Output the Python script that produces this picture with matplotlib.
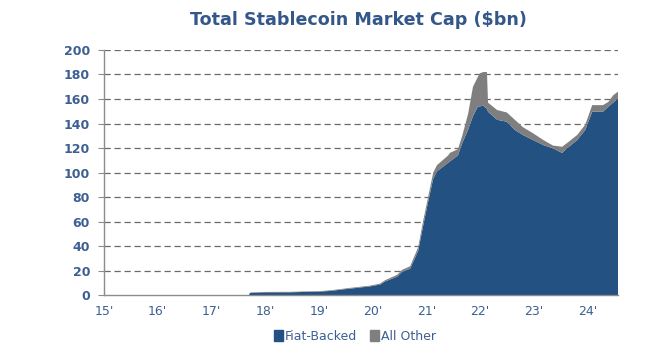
import matplotlib
matplotlib.use("Agg")
import matplotlib.pyplot as plt
import numpy as np
from matplotlib.patches import Patch

# Fractional year, total and fiat-backed market cap ($bn)
years = [2015.0, 2017.70, 2017.72, 2018.00, 2018.46, 2019.02, 2019.21, 2019.58, 2019.95,
         2020.14, 2020.23, 2020.46, 2020.55, 2020.70, 2020.85, 2020.94, 2021.03, 2021.13,
         2021.20, 2021.41, 2021.44, 2021.59, 2021.67, 2021.78, 2021.87, 2021.96, 2022.00,
         2022.06, 2022.13, 2022.15, 2022.32, 2022.50, 2022.65, 2022.80, 2022.99, 2023.18,
         2023.36, 2023.53, 2023.62, 2023.81, 2023.96, 2024.09, 2024.29, 2024.39, 2024.48,
         2024.57]
fiat = [0, 0, 1.8, 2.2, 2.2, 2.8, 3.3, 5.2, 7.0,
        8.5, 11, 15, 19, 21.5, 36, 56, 75, 95,
        101, 108, 109, 114, 124, 135, 146, 153.7, 154,
        154.5, 152, 149.6, 143, 141.5, 134.7, 130.6, 126.5, 122.4,
        119.7, 116, 119.7, 126.5, 134.7, 149.6, 149.6, 153.7, 157,
        160.6]
total = [0, 0, 2.0, 2.5, 2.6, 3.2, 3.8, 5.8, 7.6,
         9.3, 12, 16.5, 20.5, 23.5, 39, 60, 79, 100,
         106, 114, 116, 119, 130, 148, 170, 178, 181,
         182, 182, 157, 151, 149, 143, 137, 132, 126.5,
         122, 121, 124, 130.6, 139, 155, 155, 157.6, 163,
         166]
other = [t - f for t, f in zip(total, fiat)]

x_ticks = [2015, 2016, 2017, 2018, 2019, 2020, 2021, 2022, 2023, 2024]
x_labels = ["15'", "16'", "17'", "18'", "19'", "20'", "21'", "22'", "23'", "24'"]
y_ticks = [0, 20, 40, 60, 80, 100, 120, 140, 160, 180, 200]

BLUE = "#235182"
GRAY = "#7f7f7f"
TXT = "#3d5f93"

fig = plt.figure(figsize=(6.48, 3.61), dpi=100)
ax = fig.add_axes([0.1605, 0.1828, 0.7932, 0.6787])

ax.stackplot(years, fiat, other, colors=[BLUE, GRAY], linewidth=0)

ax.set_xlim(2015, 2024.57)
ax.set_ylim(0, 200)
ax.set_yticks(y_ticks)
ax.set_xticks(x_ticks)
ax.set_xticklabels(x_labels)
for y in y_ticks[1:]:
    ax.axhline(y, color="#6a6a6a", lw=0.9, ls=(0, (5, 3)), zorder=0)

for s in ["top", "right"]:
    ax.spines[s].set_visible(False)
for s in ["left", "bottom"]:
    ax.spines[s].set_color("#8c8c8c")
    ax.spines[s].set_linewidth(1.0)

ax.tick_params(axis="y", length=4, color="#8c8c8c", labelsize=9, labelcolor=TXT, pad=6)
ax.tick_params(axis="x", length=0, labelsize=9, labelcolor=TXT, pad=7)
for lab in ax.get_yticklabels():
    lab.set_fontweight("bold")

fig.text(0.553, 0.945, "Total Stablecoin Market Cap ($bn)", ha="center", va="center",
         fontsize=12.6, fontweight="bold", color="#34578a")

handles = [Patch(color=BLUE, label="Fiat-Backed"), Patch(color=GRAY, label="All Other")]
fig.legend(handles=handles, loc="center", bbox_to_anchor=(0.548, 0.068), ncol=2,
           frameon=False, fontsize=9, handlelength=0.7, handleheight=0.9,
           handletextpad=0.2, columnspacing=1.0, labelcolor=TXT)

fig.savefig("out.png", dpi=100)
